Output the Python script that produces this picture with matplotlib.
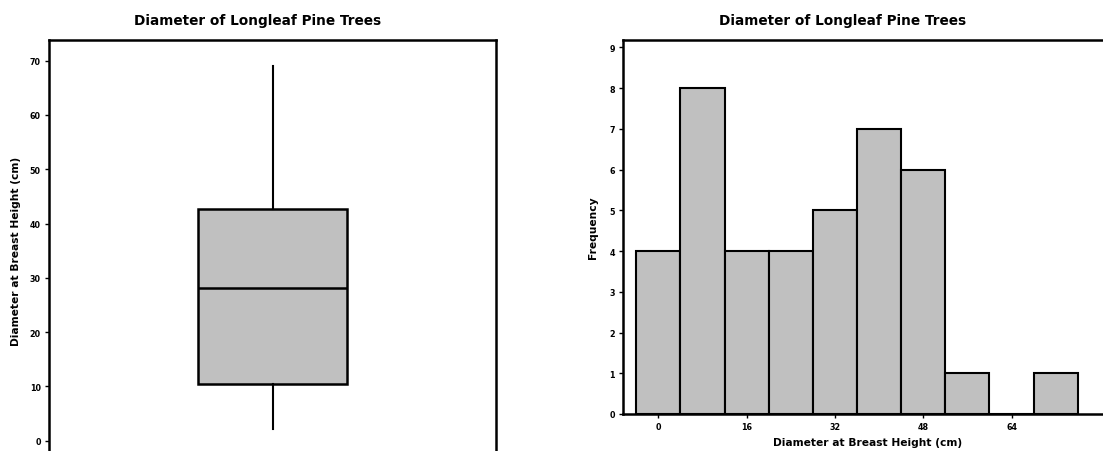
import matplotlib
matplotlib.use("Agg")
import matplotlib.pyplot as plt

# ---- data ----
title_text = "Diameter of Longleaf Pine Trees"
box_min = 2.2
box_q1 = 10.4
box_median = 28.2
box_q3 = 42.7
box_max = 69.1

bin_centers = [0, 8, 16, 24, 32, 40, 48, 56, 64, 72]
frequencies = [4, 8, 4, 4, 5, 7, 6, 1, 0, 1]
bin_width = 8

left_yticks = [0, 10, 20, 30, 40, 50, 60, 70]
right_yticks = [0, 1, 2, 3, 4, 5, 6, 7, 8, 9]
right_xticks = [0, 16, 32, 48, 64]

fill = "#c0c0c0"
W, H = 1103, 452
fig = plt.figure(figsize=(W / 100, H / 100), dpi=100)

def px(x0, y0, x1, y1):
    return [x0 / W, 1 - y1 / H, (x1 - x0) / W, (y1 - y0) / H]

tick_fs = 5.8
lab_fs = 7.7

# ---- left: box plot ----
ax1 = fig.add_axes(px(49, 41, 496, 461))
stats = [dict(whislo=box_min, q1=box_q1, med=box_median, q3=box_q3,
              whishi=box_max, fliers=[])]
ax1.bxp(stats, positions=[1], widths=0.67, showcaps=False, patch_artist=True,
        boxprops=dict(facecolor=fill, edgecolor="black", linewidth=1.8),
        medianprops=dict(color="black", linewidth=1.8),
        whiskerprops=dict(color="black", linewidth=1.5))
ax1.set_xlim(0, 2)
ax1.set_ylim(-3.55, 73.8)
ax1.set_xticks([])
ax1.set_yticks(left_yticks)
ax1.tick_params(axis="y", labelsize=tick_fs, length=3, width=1, pad=3)
for lab in ax1.get_yticklabels():
    lab.set_fontweight("bold")
for s in ax1.spines.values():
    s.set_linewidth(1.8)
ax1.set_ylabel("Diameter at Breast Height (cm)", fontsize=lab_fs,
               fontweight="bold", labelpad=6)

# ---- right: histogram ----
ax2 = fig.add_axes(px(623.3, 41, 1112, 415))
ax2.bar(bin_centers, frequencies, width=bin_width, color=fill,
        edgecolor="black", linewidth=1.5)
ax2.set_xlim(-6.34, 82.2)
ax2.set_ylim(0, 9.18)
ax2.set_yticks(right_yticks)
ax2.set_xticks(right_xticks)
ax2.tick_params(axis="both", labelsize=tick_fs, length=3, width=1, pad=3)
for lab in ax2.get_yticklabels() + ax2.get_xticklabels():
    lab.set_fontweight("bold")
for s in ax2.spines.values():
    s.set_linewidth(1.8)
ax2.set_ylabel("Frequency", fontsize=lab_fs, fontweight="bold", labelpad=8)
ax2.set_xlabel("Diameter at Breast Height (cm)", fontsize=lab_fs,
               fontweight="bold", labelpad=4)

# ---- titles ----
fig.text(258 / W, 1 - 21 / H, title_text, ha="center", va="center",
         fontsize=9.8, fontweight="bold")
fig.text(843 / W, 1 - 21 / H, title_text, ha="center", va="center",
         fontsize=9.8, fontweight="bold")

fig.savefig("out.png", dpi=100)
